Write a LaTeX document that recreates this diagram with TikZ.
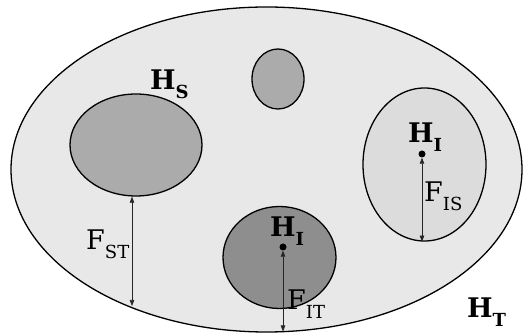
\documentclass[tikz,border=0pt]{standalone}
\usepackage{fontspec}
\setmainfont{DejaVu Serif}
\usetikzlibrary{shapes.geometric,arrows.meta}
\definecolor{bgfill}{HTML}{E8E8E8}
\definecolor{lightfill}{HTML}{DCDCDC}
\definecolor{midfill}{HTML}{ABABAB}
\definecolor{darkfill}{HTML}{8E8E8E}
\newcommand\HLab[2]{#1\raisebox{-9pt}{\fontsize{18}{18}\selectfont #2}}
\begin{document}
\begin{tikzpicture}[x=1pt,y=-1pt,
  blob/.style={ellipse,draw=black,line width=1.3pt,inner sep=0pt},
  dimarrow/.style={{Triangle[length=6pt,width=4.5pt]}-{Triangle[length=6pt,width=4.5pt]},line width=0.6pt,draw=black!85},
  dotmark/.style={circle,fill=black,inner sep=0pt,minimum size=7pt},
  hlabel/.style={inner sep=0pt,anchor=base west,font=\fontsize{27}{27}\selectfont\bfseries},
  flabel/.style={inner sep=0pt,anchor=base west,font=\fontsize{27}{27}\selectfont}
]
\useasboundingbox (0,0) rectangle (523,336);
\node[blob,fill=bgfill,minimum width=511pt,minimum height=325pt] (outer) at (266.5,169.5) {};
\node[blob,fill=midfill,minimum width=52pt,minimum height=60pt] (top) at (278,79) {};
\node[blob,fill=midfill,minimum width=132pt,minimum height=102pt] (hs) at (136,145) {};
\node[blob,fill=darkfill,minimum width=113pt,minimum height=102pt] (bi) at (279.5,257.5) {};
\node[blob,fill=lightfill,minimum width=123pt,minimum height=153pt] (ri) at (424.5,164.5) {};

\node[dotmark] (rdot) at (422,154) {};
\node[dotmark] (bdot) at (283,247) {};
\coordinate (stbot) at (132,306);
\coordinate (itbot) at (283,331.5);

\draw[dimarrow] (rdot) -- (rdot |- ri.south);
\draw[dimarrow] (bdot) -- (itbot);
\draw[dimarrow] (hs.south -| stbot) -- (stbot);

\node[hlabel] (lhs) at (150,90) {\HLab{H}{S}};
\node[hlabel] (lri) at (408,143) {\HLab{H}{I}};
\node[hlabel] (lbi) at (270,237) {\HLab{H}{I}};
\node[hlabel] (lht) at (467,318) {\HLab{H}{T}};
\node[flabel] (fst) at (86,250) {\HLab{F}{ST}};
\node[flabel] (fis) at (424,202) {\HLab{F}{IS}};
\node[flabel] (fit) at (287,310) {\HLab{F}{IT}};
\end{tikzpicture}
\end{document}
